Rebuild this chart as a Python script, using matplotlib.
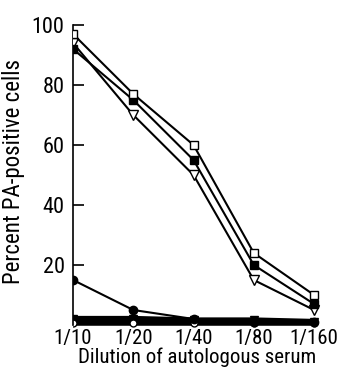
import numpy as np
import matplotlib
matplotlib.use('Agg')
import matplotlib.pyplot as plt

plt.rcParams['font.family'] = ['Roboto Condensed', 'DejaVu Sans']

dilutions = ['1/10', '1/20', '1/40', '1/80', '1/160']
open_sq = [97, 77, 60, 24, 10]
filled_sq = [92, 75, 55, 20, 7]
open_tri = [94, 70, 50, 15, 5]
filled_circ = [15, 5, 2, 1, 1]
filled_tri = [2, 2, 1.5, 1.5, 1]
open_circ = [0.5, 0.5, 0.5, 0.5, 0.5]

x = np.arange(len(dilutions))

fig = plt.figure(figsize=(3.38, 3.68), dpi=100)
ax = fig.add_axes([0.216, 0.1087, 0.731, 0.8234])

ax.plot(x, filled_tri, color='black', lw=4.5, marker='v', ms=6, mfc='black', mec='black', zorder=2)
ax.plot(x, open_circ, color='black', lw=4, marker='o', ms=5, mfc='white', mec='black', zorder=2)
ax.plot(x, filled_circ, color='black', lw=1.5, marker='o', ms=6, mfc='black', mec='black', zorder=3)
ax.plot(x, open_tri, color='black', lw=1.5, marker='v', ms=7, mfc='white', mec='black', zorder=3)
ax.plot(x, filled_sq, color='black', lw=1.5, marker='s', ms=6, mfc='black', mec='black', zorder=4)
ax.plot(x, open_sq, color='black', lw=1.5, marker='s', ms=6, mfc='white', mec='black', zorder=5)

ax.set_xlim(0, 4.1)
ax.set_ylim(-1, 100)
ax.set_xticks(x)
ax.set_xticklabels(dilutions, fontsize=15)
ax.set_yticks([20, 40, 60, 80, 100])
ax.set_yticklabels(['20', '40', '60', '80', '100'], fontsize=16)
ax.tick_params(axis='y', direction='in', length=8, width=1.2, pad=6)
ax.tick_params(axis='x', length=0, pad=1)

for s in ['top', 'right', 'bottom']:
    ax.spines[s].set_visible(False)
ax.spines['left'].set_linewidth(1.2)
ax.spines['left'].set_bounds(0, 100)

ax.set_ylabel('Percent PA-positive cells', fontsize=16.5)
ax.yaxis.set_label_coords(-0.194, 0.515)
ax.set_xlabel('Dilution of autologous serum', fontsize=15)
ax.xaxis.set_label_coords(0.502, -0.063)

fig.savefig('out.png', dpi=100)
